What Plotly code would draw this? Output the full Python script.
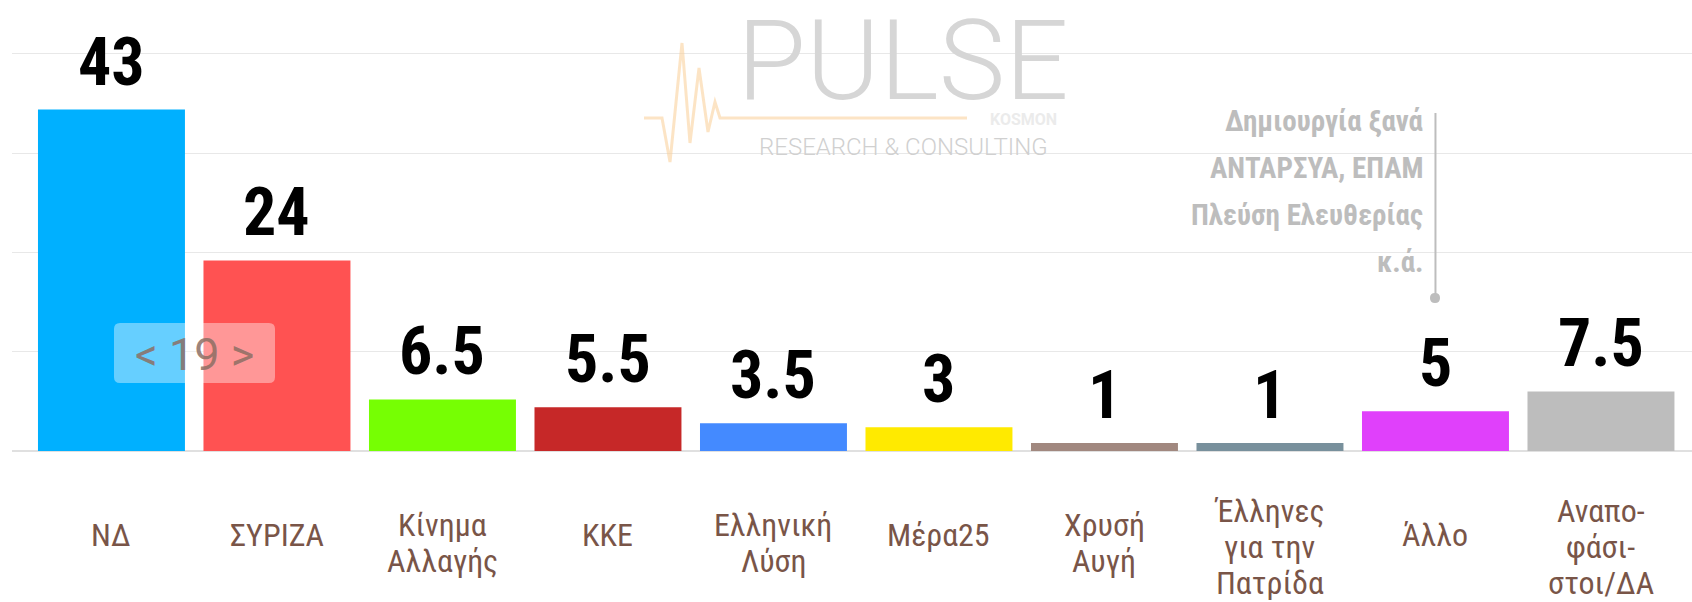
import plotly.graph_objects as go

# ---------------- data ----------------
categories = ["ΝΔ", "ΣΥΡΙΖΑ", "Κίνημα<br>Αλλαγής", "ΚΚΕ", "Ελληνική<br>Λύση", "Μέρα25",
              "Χρυσή<br>Αυγή", "Έλληνες<br>για την<br>Πατρίδα", "Άλλο", "Αναπο-<br>φάσι-<br>στοι/ΔΑ"]
values = [43, 24, 6.5, 5.5, 3.5, 3, 1, 1, 5, 7.5]
value_labels = ["43", "24", "6.5", "5.5", "3.5", "3", "1", "1", "5", "7.5"]
colors = ["#00B0FF", "#FF5252", "#76FF03", "#C62828", "#448AFF", "#FFEA00",
          "#A1887F", "#78909C", "#E040FB", "#BDBDBD"]
note_lines = ["Δημιουργία ξανά", "ΑΝΤΑΡΣΥΑ, ΕΠΑΜ", "Πλεύση Ελευθερίας", "κ.ά."]
note_category = 8
nav_text = "< 19 >"

# ---------------- layout helpers ----------------
W, H = 1692, 602
L, R, T, B = 12, 0, 0, 151
PW, PH = W - L - R, H - T - B


def pxx(x):
    return (x - L) / PW


def pxy(y):
    return (H - B - y) / PH


COND = "Roboto Condensed, Liberation Sans Narrow, Arial Narrow, sans-serif"
LABEL_COLOR = "#795548"

x_idx = list(range(len(categories)))

fig = go.Figure()
fig.add_trace(go.Bar(
    x=x_idx, y=values, width=0.888,
    marker=dict(color=colors, line=dict(width=0)),
    hoverinfo="skip", showlegend=False,
))

annotations = []
# value labels
for i, (v, t) in enumerate(zip(values, value_labels)):
    annotations.append(dict(
        x=i, y=v, xref="x", yref="y", text=t, showarrow=False,
        yanchor="bottom", xanchor="center", yshift=7,
        font=dict(family=COND, size=66, color="#000000", weight="bold"),
    ))

# category labels (one annotation per line for exact line spacing)
block_center = {1: 535, 2: 543, 3: 547}
line_gap = 36
for i, cat in enumerate(categories):
    lines = cat.split("<br>")
    n = len(lines)
    for j, ln in enumerate(lines):
        cy = block_center[n] + (j - (n - 1) / 2) * line_gap
        annotations.append(dict(
            x=i, xref="x", y=pxy(cy), yref="paper", text=ln, showarrow=False,
            xanchor="center", yanchor="middle",
            font=dict(family=COND, size=32, color=LABEL_COLOR),
        ))

# note text for "Άλλο"
note_centers = [121, 168, 215, 262]
for ln, cy in zip(note_lines, note_centers):
    annotations.append(dict(
        x=note_category, xref="x", xshift=-10, y=pxy(cy), yref="paper", text=ln,
        showarrow=False, xanchor="right", yanchor="middle",
        font=dict(family=COND, size=29, color="#BDBDBD", weight="bold"),
    ))

# watermark logo texts
annotations.append(dict(
    x=pxx(903), y=pxy(60), xref="paper", yref="paper", text="PULSE", showarrow=False,
    xanchor="center", yanchor="middle",
    font=dict(family="Roboto, sans-serif", size=112, color="#D6D6D6", weight=300),
))
annotations.append(dict(
    x=pxx(1023), y=pxy(119), xref="paper", yref="paper", text="KOSMON", showarrow=False,
    xanchor="center", yanchor="middle",
    font=dict(family="Roboto, sans-serif", size=16, color="#EBEBEB", weight="bold"),
))
annotations.append(dict(
    x=pxx(903), y=pxy(147), xref="paper", yref="paper", text="RESEARCH & CONSULTING",
    showarrow=False, xanchor="center", yanchor="middle",
    font=dict(family="Roboto, sans-serif", size=24, color="#D0D0D0", weight=300),
))

# navigation overlay text
annotations.append(dict(
    x=pxx(194.5), y=pxy(354), xref="paper", yref="paper", text=nav_text, showarrow=False,
    xanchor="center", yanchor="middle",
    font=dict(family="Roboto, sans-serif", size=45, color="rgba(141,110,99,0.85)"),
))

shapes = []
# heartbeat line of the logo
hb = [(644, 118), (662, 118), (670, 162), (682, 43), (690, 143), (699, 68),
      (708, 132), (715, 102), (720, 118), (967, 118)]
path = "M " + " L ".join(f"{pxx(x):.5f},{pxy(y):.5f}" for x, y in hb)
shapes.append(dict(type="path", xref="paper", yref="paper", path=path,
                   line=dict(color="rgba(250,205,150,0.55)", width=3), layer="above"))

# note leader line and dot
shapes.append(dict(type="line", xref="x", yref="paper", x0=note_category, x1=note_category,
                   y0=pxy(113), y1=pxy(298), line=dict(color="#BDBDBD", width=2)))
shapes.append(dict(type="path", xref="paper", yref="paper",
                   path=(f"M {pxx(1430):.5f},{pxy(298):.5f} "
                         f"Q {pxx(1430):.5f},{pxy(293):.5f} {pxx(1435):.5f},{pxy(293):.5f} "
                         f"Q {pxx(1440):.5f},{pxy(293):.5f} {pxx(1440):.5f},{pxy(298):.5f} "
                         f"Q {pxx(1440):.5f},{pxy(303):.5f} {pxx(1435):.5f},{pxy(303):.5f} "
                         f"Q {pxx(1430):.5f},{pxy(303):.5f} {pxx(1430):.5f},{pxy(298):.5f} Z"),
                   fillcolor="#BDBDBD", line=dict(width=0)))

# navigation overlay box (rounded)
x0, x1, y0, y1, r = 114, 275, 323, 383, 6
box = (f"M {pxx(x0 + r):.5f},{pxy(y0):.5f} L {pxx(x1 - r):.5f},{pxy(y0):.5f} "
       f"Q {pxx(x1):.5f},{pxy(y0):.5f} {pxx(x1):.5f},{pxy(y0 + r):.5f} "
       f"L {pxx(x1):.5f},{pxy(y1 - r):.5f} "
       f"Q {pxx(x1):.5f},{pxy(y1):.5f} {pxx(x1 - r):.5f},{pxy(y1):.5f} "
       f"L {pxx(x0 + r):.5f},{pxy(y1):.5f} "
       f"Q {pxx(x0):.5f},{pxy(y1):.5f} {pxx(x0):.5f},{pxy(y1 - r):.5f} "
       f"L {pxx(x0):.5f},{pxy(y0 + r):.5f} "
       f"Q {pxx(x0):.5f},{pxy(y0):.5f} {pxx(x0 + r):.5f},{pxy(y0):.5f} Z")
shapes.append(dict(type="path", xref="paper", yref="paper", path=box,
                   fillcolor="rgba(255,255,255,0.4)", line=dict(width=0), layer="above"))

fig.update_layout(
    width=W, height=H,
    margin=dict(l=L, r=R, t=T, b=B, pad=0),
    paper_bgcolor="#FFFFFF", plot_bgcolor="#FFFFFF",
    xaxis=dict(range=[-0.601, 9.55], showticklabels=False, showgrid=False,
               zeroline=False, showline=False, ticks="", fixedrange=True),
    yaxis=dict(range=[0, 56.8], tick0=0, dtick=12.5, showticklabels=False,
               showgrid=True, gridcolor="#E8E8E8", gridwidth=1,
               zeroline=True, zerolinecolor="#E0E0E0", zerolinewidth=2,
               showline=False, ticks="", fixedrange=True),
    annotations=annotations,
    shapes=shapes,
    bargap=0.112,
)

fig.write_html(
    "out.html",
    config={"displayModeBar": False},
    post_script="document.body.style.margin='0';document.body.style.overflow='hidden';",
)
